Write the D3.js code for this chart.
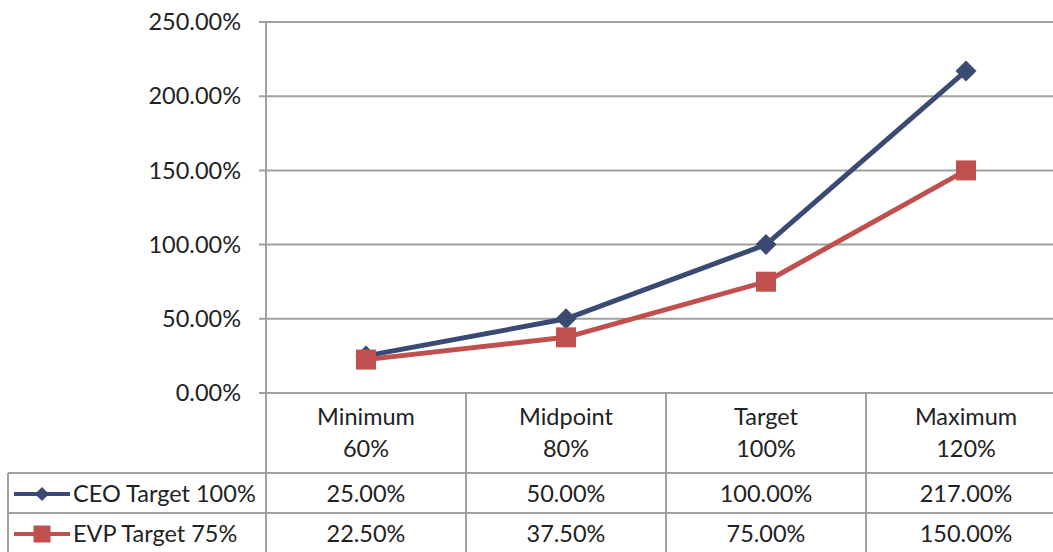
<!DOCTYPE html>
<html>
<head>
<meta charset="utf-8">
<script src="https://cdn.jsdelivr.net/npm/d3@7"></script>
<style>
  body { margin: 0; background: #fff; }
  text { font-family: Lato, "Open Sans", sans-serif; fill: #222; font-size: 23.5px; }
</style>
</head>
<body>
<svg id="chart" width="1053" height="552"></svg>
<script>
// chart data
var catNames = ["Minimum", "Midpoint", "Target", "Maximum"];
var catPcts = ["60%", "80%", "100%", "120%"];
var seriesNames = ["CEO Target 100%", "EVP Target 75%"];
var ceoValues = [25, 50, 100, 217];
var evpValues = [22.5, 37.5, 75, 150];
var yTicks = [0, 50, 100, 150, 200, 250];

var colors = ["#3B4A73", "#C0504D"];
var symbols = ["diamond", "square"];
var series = [ceoValues, evpValues];

var svg = d3.select("#chart"),
    plot = {left: 266, right: 1066, top: 22, bottom: 393},
    rowH = 40,
    headerBottom = 473,
    grid = "#A0A0A0";

var x = d3.scaleBand()
    .domain(d3.range(catNames.length))
    .range([plot.left, plot.right]);

var y = d3.scaleLinear()
    .domain([0, 250])
    .range([plot.bottom, plot.top]);

var fmt = function (v) { return d3.format(".2f")(v) + "%"; };
var mid = function (i) { return x(i) + x.bandwidth() / 2; };

// gridlines + tick marks
svg.append("g")
    .selectAll("line")
    .data(yTicks)
    .enter().append("line")
    .attr("x1", plot.left - 7)
    .attr("x2", plot.right)
    .attr("y1", function (d) { return y(d); })
    .attr("y2", function (d) { return y(d); })
    .attr("stroke", grid)
    .attr("stroke-width", 2);

svg.append("g")
    .selectAll("text")
    .data(yTicks)
    .enter().append("text")
    .attr("x", plot.left - 25)
    .attr("y", function (d) { return y(d); })
    .attr("dy", "0.35em")
    .attr("text-anchor", "end")
    .text(fmt);

// table lines
var tableBottom = headerBottom + rowH * series.length;
var tbl = svg.append("g").attr("stroke", grid).attr("stroke-width", 2);
tbl.append("line")
    .attr("x1", plot.left).attr("x2", plot.left)
    .attr("y1", plot.top).attr("y2", tableBottom);
tbl.selectAll(".vdiv")
    .data(d3.range(1, catNames.length))
    .enter().append("line")
    .attr("x1", function (i) { return x(i); })
    .attr("x2", function (i) { return x(i); })
    .attr("y1", plot.bottom)
    .attr("y2", tableBottom);
tbl.append("line")
    .attr("x1", 8).attr("x2", 8)
    .attr("y1", headerBottom).attr("y2", tableBottom);
tbl.selectAll(".hdiv")
    .data(d3.range(series.length))
    .enter().append("line")
    .attr("x1", 8)
    .attr("x2", plot.right)
    .attr("y1", function (i) { return headerBottom + i * rowH; })
    .attr("y2", function (i) { return headerBottom + i * rowH; });

// category headers
var hdr = svg.append("g")
    .selectAll("text")
    .data(catNames)
    .enter().append("text")
    .attr("text-anchor", "middle");
hdr.append("tspan")
    .attr("x", function (d, i) { return mid(i); })
    .attr("y", 417)
    .attr("dy", "0.35em")
    .text(function (d) { return d; });
hdr.append("tspan")
    .attr("x", function (d, i) { return mid(i); })
    .attr("y", 449)
    .attr("dy", "0.35em")
    .text(function (d, i) { return catPcts[i]; });

function marker(size) {
    return d3.symbol().type(d3.symbolSquare).size(size)();
}

// lines + markers
series.forEach(function (vals, s) {
    var line = d3.line()
        .x(function (d, i) { return mid(i); })
        .y(function (d) { return y(d); });

    svg.append("path")
        .datum(vals)
        .attr("d", line)
        .attr("fill", "none")
        .attr("stroke", colors[s])
        .attr("stroke-width", 5)
        .attr("stroke-linejoin", "round");

    svg.append("g")
        .selectAll("path")
        .data(vals)
        .enter().append("path")
        .attr("d", marker(s === 0 ? 220 : 400))
        .attr("transform", function (d, i) {
            var t = "translate(" + mid(i) + "," + y(d) + ")";
            return symbols[s] === "diamond" ? t + " rotate(45)" : t;
        })
        .attr("fill", colors[s]);

    // table row
    var cy = headerBottom + s * rowH + rowH / 2 + 1;
    svg.append("line")
        .attr("x1", 14).attr("x2", 70)
        .attr("y1", cy).attr("y2", cy)
        .attr("stroke", colors[s])
        .attr("stroke-width", 4);
    svg.append("path")
        .attr("d", marker(s === 0 ? 100 : 289))
        .attr("transform", "translate(42," + cy + ")" + (symbols[s] === "diamond" ? " rotate(45)" : ""))
        .attr("fill", colors[s]);
    svg.append("text")
        .attr("x", 73)
        .attr("y", cy)
        .attr("dy", "0.35em")
        .text(seriesNames[s]);

    svg.append("g")
        .selectAll("text")
        .data(vals)
        .enter().append("text")
        .attr("x", function (d, i) { return mid(i); })
        .attr("y", cy)
        .attr("dy", "0.35em")
        .attr("text-anchor", "middle")
        .text(fmt);
});
</script>
</body>
</html>
